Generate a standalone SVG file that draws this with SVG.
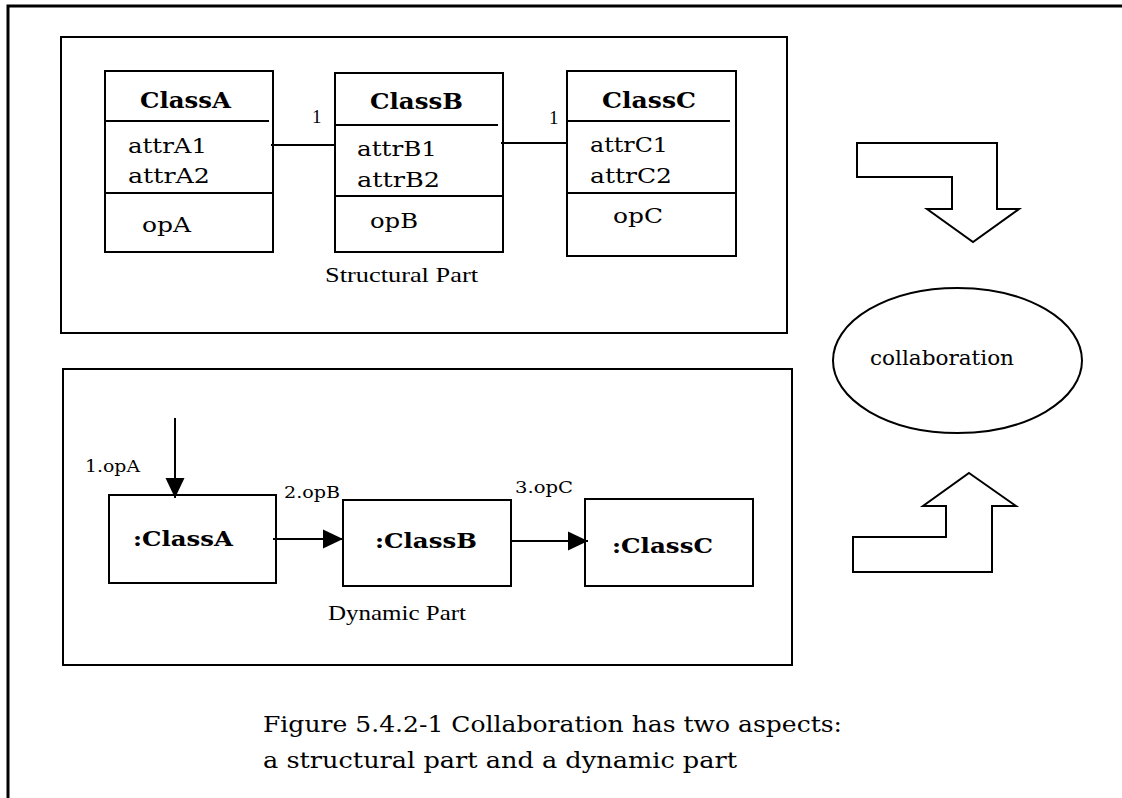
<svg xmlns="http://www.w3.org/2000/svg" width="1122" height="798" viewBox="0 0 1122 798">
<style>
.box{fill:none;stroke:#000;stroke-width:2}
.shape{fill:#fff;stroke:#000;stroke-width:2;stroke-linejoin:miter}
.ln{stroke:#000;stroke-width:2;fill:none}
.cls{font-family:"DejaVu Serif",serif;font-weight:bold;font-size:23px;fill:#000}
.obj{font-family:"DejaVu Serif",serif;font-weight:bold;font-size:21px;fill:#000}
.attr{font-family:"DejaVu Serif",serif;font-size:21px;fill:#000}
.msg{font-family:"DejaVu Serif",serif;font-size:16px;fill:#000}
.lbl{font-family:"Liberation Serif",serif;font-size:21px;fill:#000}
.mult{font-family:"Liberation Serif",serif;font-size:19px;fill:#000}
.cap{font-family:"DejaVu Serif",serif;font-size:23px;fill:#000}
</style>
<defs>
<marker id="ah" markerUnits="userSpaceOnUse" markerWidth="20" markerHeight="20" viewBox="0 0 20 20" refX="20" refY="10" orient="auto">
<path d="M0,0.5 L20,10 L0,19.5 z" fill="#000"/>
</marker>
</defs>
<rect width="1122" height="798" fill="#fff"/>
<path d="M8,798 L8,6 L1122,6" fill="none" stroke="#000" stroke-width="3"/>

<g id="structural-part">
<rect class="box" x="61" y="37" width="726" height="296"/>
<text class="lbl" x="325" y="282" textLength="153" lengthAdjust="spacingAndGlyphs">Structural Part</text>
</g>

<g id="classA">
<rect class="box" x="105" y="71" width="168" height="181"/>
<line class="ln" x1="105" y1="121" x2="269" y2="121"/>
<line class="ln" x1="105" y1="193" x2="273" y2="193"/>
<text class="cls" x="140" y="108" textLength="91" lengthAdjust="spacingAndGlyphs">ClassA</text>
<text class="attr" x="128" y="153" textLength="79" lengthAdjust="spacingAndGlyphs">attrA1</text>
<text class="attr" x="128" y="183" textLength="82" lengthAdjust="spacingAndGlyphs">attrA2</text>
<text class="attr" x="142" y="232" textLength="49" lengthAdjust="spacingAndGlyphs">opA</text>
</g>

<g id="classB">
<rect class="box" x="335" y="73" width="168" height="179"/>
<line class="ln" x1="335" y1="125" x2="498" y2="125"/>
<line class="ln" x1="335" y1="196" x2="503" y2="196"/>
<text class="cls" x="370" y="109" textLength="93" lengthAdjust="spacingAndGlyphs">ClassB</text>
<text class="attr" x="357" y="156" textLength="80" lengthAdjust="spacingAndGlyphs">attrB1</text>
<text class="attr" x="357" y="187" textLength="83" lengthAdjust="spacingAndGlyphs">attrB2</text>
<text class="attr" x="370" y="228" textLength="48" lengthAdjust="spacingAndGlyphs">opB</text>
</g>

<g id="classC">
<rect class="box" x="567" y="71" width="169" height="185"/>
<line class="ln" x1="567" y1="121" x2="730" y2="121"/>
<line class="ln" x1="567" y1="193" x2="736" y2="193"/>
<text class="cls" x="602" y="108" textLength="94" lengthAdjust="spacingAndGlyphs">ClassC</text>
<text class="attr" x="590" y="152" textLength="78" lengthAdjust="spacingAndGlyphs">attrC1</text>
<text class="attr" x="590" y="183" textLength="82" lengthAdjust="spacingAndGlyphs">attrC2</text>
<text class="attr" x="613" y="223" textLength="50" lengthAdjust="spacingAndGlyphs">opC</text>
</g>

<g id="dynamic-part">
<rect class="box" x="63" y="369" width="729" height="296"/>
<text class="lbl" x="328" y="620" textLength="138" lengthAdjust="spacingAndGlyphs">Dynamic Part</text>
</g>

<g id="objA">
<rect class="box" x="109" y="495" width="167" height="88"/>
<text class="obj" x="133" y="546" textLength="100" lengthAdjust="spacingAndGlyphs">:ClassA</text>
</g>
<g id="objB">
<rect class="box" x="343" y="500" width="168" height="86"/>
<text class="obj" x="375" y="548" textLength="102" lengthAdjust="spacingAndGlyphs">:ClassB</text>
</g>
<g id="objC">
<rect class="box" x="585" y="499" width="168" height="87"/>
<text class="obj" x="612" y="553" textLength="101" lengthAdjust="spacingAndGlyphs">:ClassC</text>
</g>

<g id="collaboration">
<ellipse class="box" cx="957.5" cy="360.5" rx="124.5" ry="72.5"/>
<text class="attr" x="870" y="365" textLength="144" lengthAdjust="spacingAndGlyphs">collaboration</text>
</g>

<g id="arrow-down">
<polygon class="shape" points="857,143 997,143 997,209 1019,209 973,242 927,209 952,209 952,177 857,177"/>
</g>
<g id="arrow-up">
<polygon class="shape" points="969,473 1016,506 992,506 992,572 853,572 853,537 946,537 946,506 923,506"/>
</g>

<g id="connectors">
<line class="ln" x1="271" y1="145" x2="335" y2="145"/>
<text class="mult" x="312" y="123">1</text>
<line class="ln" x1="501" y1="143" x2="567" y2="143"/>
<text class="mult" x="549" y="124">1</text>
<line class="ln" x1="175" y1="418" x2="175" y2="498" marker-end="url(#ah)"/>
<text class="msg" x="85" y="472" textLength="55" lengthAdjust="spacingAndGlyphs">1.opA</text>
<line class="ln" x1="273" y1="539" x2="343" y2="539" marker-end="url(#ah)"/>
<text class="msg" x="284" y="498" textLength="56" lengthAdjust="spacingAndGlyphs">2.opB</text>
<line class="ln" x1="511" y1="541" x2="588" y2="541" marker-end="url(#ah)"/>
<text class="msg" x="515" y="493" textLength="58" lengthAdjust="spacingAndGlyphs">3.opC</text>
</g>

<g id="caption">
<text class="cap" x="263" y="732" textLength="579" lengthAdjust="spacingAndGlyphs">Figure 5.4.2-1 Collaboration has two aspects:</text>
<text class="cap" x="263" y="768" textLength="474" lengthAdjust="spacingAndGlyphs">a structural part and a dynamic part</text>
</g>
</svg>
